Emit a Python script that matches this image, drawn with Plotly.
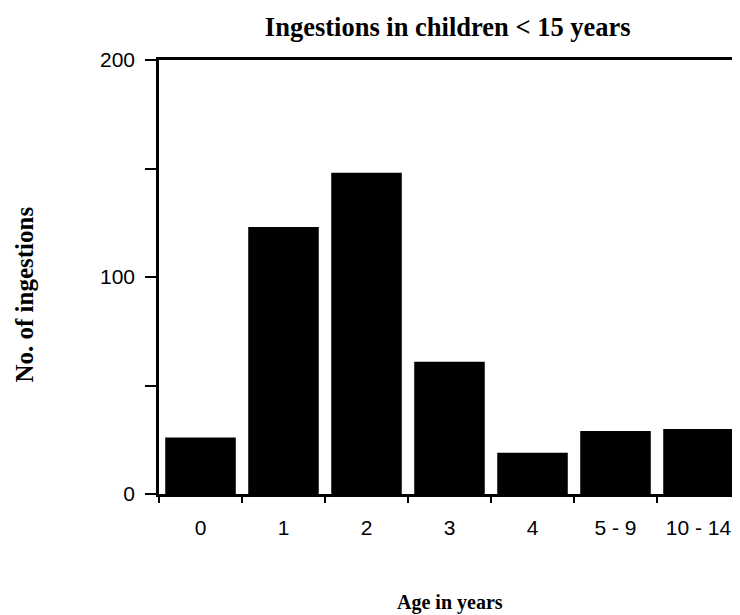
import plotly.graph_objects as go

categories = ["0", "1", "2", "3", "4", "5 - 9", "10 - 14"]
ingestions = [26, 123, 148, 61, 19, 29, 30]
y_tickvals = [0, 50, 100, 150, 200]
y_ticktext = ["0", "", "100", "", "200"]

serif = "Liberation Serif"
sans = "Liberation Sans"

# page body has an 8px margin; compensate so the plot area sits at x 159..740, y 60..494
W, H = 732, 607
fig = go.Figure(go.Bar(x=categories, y=ingestions, marker=dict(color="black", line=dict(width=0))))

fig.update_layout(
    width=W, height=H,
    margin=dict(l=151, r=0, t=52, b=121),
    plot_bgcolor="white", paper_bgcolor="white",
    bargap=0.15,
    showlegend=False,
    title=dict(text="<b>Ingestions in children < 15 years</b>", x=0.497, xref="paper", xanchor="center",
               y=1 - 19 / H, yanchor="middle", font=dict(family=serif, size=26.5, color="black")),
    annotations=[
        dict(text="<b>No. of ingestions</b>", xref="paper", yref="paper", x=-0.232, y=0.46,
             textangle=-90, showarrow=False, font=dict(family=serif, size=25, color="black"),
             xanchor="center", yanchor="middle", borderpad=0),
        dict(text="<b>Age in years</b>", xref="paper", yref="paper", x=0.5, y=-0.25,
             showarrow=False, font=dict(family=serif, size=20, color="black"),
             xanchor="center", yanchor="middle"),
    ],
)
fig.update_xaxes(
    type="category", range=[-0.5, 6.5],
    showline=True, linecolor="black", linewidth=2.5, mirror=True,
    ticks="outside", tickson="boundaries", ticklen=6, tickwidth=2, tickcolor="black",
    ticklabelstandoff=13,
    showgrid=False, zeroline=False,
    tickfont=dict(family=sans, size=21, color="black"),
)
fig.update_yaxes(
    range=[0, 200], tickvals=y_tickvals, ticktext=y_ticktext,
    showline=True, linecolor="black", linewidth=2.5,
    ticks="outside", ticklen=11, tickwidth=2, tickcolor="black",
    ticklabelstandoff=6,
    showgrid=False, zeroline=False,
    tickfont=dict(family=sans, size=21, color="black"),
)

fig.write_html("out.html")
